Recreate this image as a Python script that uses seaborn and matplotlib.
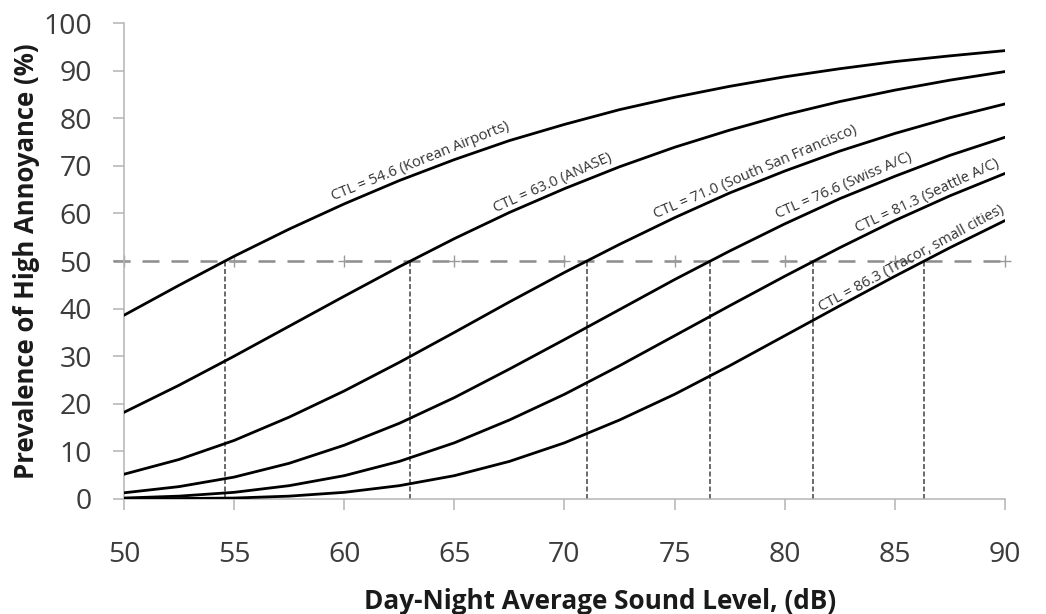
import numpy as np
import pandas as pd
import seaborn as sns
import matplotlib.pyplot as plt

# x values (dB), read every 2.5 dB
ldn = [50, 52.5, 55, 57.5, 60, 62.5, 65, 67.5, 70, 72.5, 75, 77.5, 80, 82.5, 85, 87.5, 90]

# % highly annoyed
ha_korean = [38.6, 44.9, 51.0, 56.7, 62.0, 66.9, 71.3, 75.3, 78.7, 81.8, 84.4, 86.7, 88.7, 90.4, 91.9, 93.1, 94.2]
ha_anase = [18.2, 23.9, 30.0, 36.3, 42.6, 48.8, 54.7, 60.2, 65.2, 69.8, 73.9, 77.5, 80.7, 83.5, 85.9, 88.0, 89.8]
ha_ssf = [5.2, 8.3, 12.3, 17.2, 22.7, 28.7, 35.0, 41.4, 47.6, 53.5, 59.1, 64.3, 68.9, 73.1, 76.8, 80.1, 83.0]
ha_swiss = [1.3, 2.6, 4.6, 7.5, 11.3, 15.9, 21.3, 27.3, 33.5, 39.8, 46.1, 52.1, 57.8, 63.1, 67.8, 72.2, 76.0]
ha_seattle = [0.2, 0.6, 1.4, 2.8, 4.9, 7.9, 11.8, 16.6, 22.0, 28.0, 34.3, 40.6, 46.8, 52.8, 58.5, 63.7, 68.4]
ha_tracor = [0.0, 0.1, 0.2, 0.6, 1.4, 2.8, 4.9, 7.9, 11.8, 16.6, 22.0, 28.0, 34.3, 40.6, 46.8, 52.8, 58.5]

ctl = [54.6, 63.0, 71.0, 76.6, 81.3, 86.3]
sites = ["Korean Airports", "ANASE", "South San Francisco", "Swiss A/C", "Seattle A/C", "Tracor, small cities"]

# where each curve label sits (on the curve) and its angle
label_x = [63.6, 69.6, 78.8, 82.8, 86.6, 85.9]
label_y = [68.9, 64.4, 66.6, 63.7, 61.6, 48.6]
label_rot = [22, 24, 23, 23.5, 25, 28.5]

threshold = 50

curves = [ha_korean, ha_anase, ha_ssf, ha_swiss, ha_seattle, ha_tracor]
df = pd.DataFrame({
    "Ldn": ldn * len(curves),
    "HA": [v for c in curves for v in c],
    "site": [s for s in sites for _ in ldn],
})

sns.set_theme(style="white")
plt.rcParams["font.family"] = ["Open Sans", "DejaVu Sans"]

fig = plt.figure(figsize=(10.46, 6.14), dpi=100)
ax = fig.add_axes([0.1185, 0.1873, 0.8423, 0.7752])

# 50% line and the CTL drop lines
ax.hlines(threshold, ldn[0] - 0.5, ldn[-1], colors="#8c8c8c", lw=1.8,
          linestyles=(0, (6.8, 4.8)), clip_on=False, zorder=1)
ax.plot(np.arange(50, 91, 5), [threshold] * 9, "+", color="#9a9a9a", ms=8, mew=1.0,
        clip_on=False, zorder=1)
ax.vlines(ctl, 0, threshold, colors="#505050", lw=1.2, linestyles=(0, (3, 1.5)), zorder=1)

sns.lineplot(data=df, x="Ldn", y="HA", hue="site", palette=["black"] * 6,
             legend=False, lw=2.0, ax=ax, zorder=3)

for c, s, x, y, r in zip(ctl, sites, label_x, label_y, label_rot):
    ax.annotate(f"CTL = {c:.1f} ({s})", (x, y), xytext=(0, 2), textcoords="offset points",
                rotation=r, rotation_mode="anchor", ha="center", va="bottom",
                fontsize=10.5, color="#333333")

ax.set_xlim(50, 90)
ax.set_ylim(0, 100)
ax.set_xticks(range(50, 91, 5))
ax.set_yticks(range(0, 101, 10))
for side in ["top", "right"]:
    ax.spines[side].set_visible(False)
for side in ["left", "bottom"]:
    ax.spines[side].set_color("#b4b4b4")
    ax.spines[side].set_linewidth(1.1)
ax.tick_params(axis="x", bottom=True, direction="out", length=8, width=1.1, color="#b4b4b4",
               pad=22, labelsize=20.5, labelcolor="#3c3c3c")
ax.tick_params(axis="y", left=True, direction="out", length=8, width=1.1, color="#b4b4b4",
               pad=15, labelsize=20.5, labelcolor="#3c3c3c")

ax.set_xlabel("Day-Night Average Sound Level, (dB)", fontsize=18.8, fontweight="bold", color="#1a1a1a")
ax.set_ylabel("Prevalence of High Annoyance (%)", fontsize=18.5, fontweight="bold", color="#1a1a1a")
ax.xaxis.set_label_coords(0.54, -0.187)
ax.xaxis.label.set_va("top")
ax.yaxis.set_label_coords(-0.095, 0.5)

fig.savefig("out.png", dpi=100)
